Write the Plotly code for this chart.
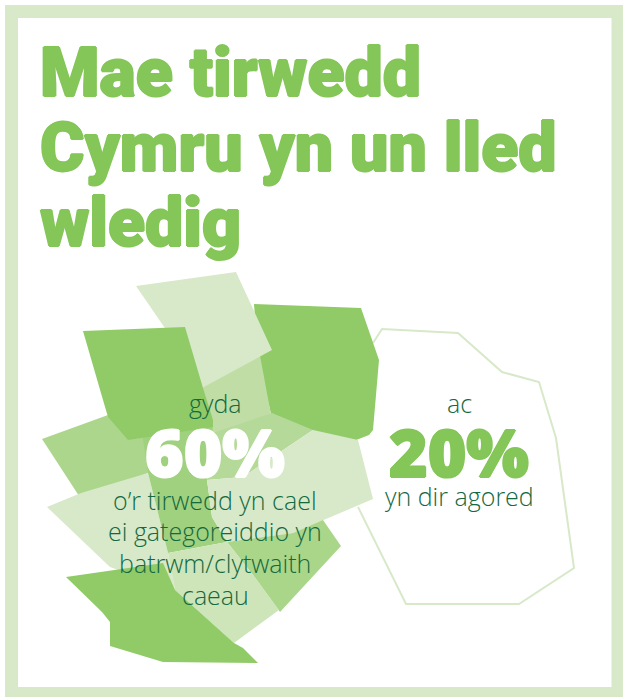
import plotly.graph_objects as go

W, H = 623, 697
TITLE_LINES = ["Mae tirwedd", "Cymru yn un lled", "wledig"]
TITLE_X = [38, 38, 38]
TITLE_Y = [72.5, 147.5, 222.5]

FRAME_COLOR = "#d7e9c9"
DARK = "#90cb68"
PALE = "#d7e9c9"
TEXT_GREEN = "#14693f"
TITLE_GREEN = "#84c658"

top_pale_x = [136, 236, 272, 202, 180]
top_pale_y = [286, 272, 350, 388, 350]
left_mid_x = [42, 108, 213, 213, 148, 81]
left_mid_y = [439, 415, 423, 440, 473, 499]
lower_pale_x = [47, 81, 148, 168, 175, 110]
lower_pale_y = [507, 493, 473, 553, 590, 567]
strip_x = [142, 213, 207, 212, 227, 168, 148]
strip_y = [433, 420, 480, 517, 542, 553, 473]
upper_mid_x = [198, 258, 272, 213]
upper_mid_y = [380, 345, 420, 440]
centre_x = [213, 272, 313, 243, 207]
centre_y = [433, 413, 430, 477, 480]
right_pale_x = [207, 243, 313, 358, 373, 293, 227, 212]
right_pale_y = [480, 477, 430, 440, 499, 533, 542, 517]
low_right_x = [227, 293, 323, 341, 280, 253]
low_right_y = [542, 533, 520, 546, 612, 575]
low_centre_x = [168, 227, 253, 279, 234, 175]
low_centre_y = [553, 542, 575, 610, 643, 590]
upper_left_x = [83, 185, 203, 213, 213, 128, 108, 103]
upper_left_y = [331, 327, 388, 420, 427, 440, 417, 400]
upper_right_x = [254, 361, 379, 373, 369, 351, 272, 258]
upper_right_y = [304, 308, 360, 430, 435, 442, 418, 360]
bottom_x = [66, 163, 175, 234, 243, 258, 163, 110, 110, 102]
bottom_y = [577, 563, 590, 643, 648, 663, 662, 646, 622, 612]
outline_x = [373, 382, 458, 502, 539, 556, 574, 519, 406, 358]
outline_y = [343, 329, 333, 372, 382, 438, 568, 604, 604, 507]

SHAPES = [
    (upper_right_x, upper_right_y, DARK),
    (upper_mid_x, upper_mid_y, "#bfdda5"),
    (top_pale_x, top_pale_y, "#d7e9c9"),
    (left_mid_x, left_mid_y, "#add68d"),
    (lower_pale_x, lower_pale_y, "#d7e9c9"),
    (strip_x, strip_y, "#a0d17e"),
    (centre_x, centre_y, "#b5d999"),
    (right_pale_x, right_pale_y, "#d7e9c9"),
    (low_right_x, low_right_y, "#aad68a"),
    (low_centre_x, low_centre_y, "#cde5b9"),
    (upper_left_x, upper_left_y, DARK),
    (bottom_x, bottom_y, DARK),
]

LEFT_TEXT = ["gyda", "o’r tirwedd yn cael", "ei gategoreiddio yn", "batrwm/clytwaith", "caeau"]
LEFT_X = [215, 215, 215, 215, 215]
LEFT_Y = [403, 500, 531, 563, 595]
RIGHT_TEXT = ["ac", "yn dir agored"]
RIGHT_X = [459, 459]
RIGHT_Y = [403, 496]
BIG_TEXT = ["60%", "20%"]
BIG_X = [215, 459]
BIG_Y = [451, 451]
BIG_COLOR = ["#ffffff", TITLE_GREEN]


def thick(c):
    return f"1px 0 0 {c}, -1px 0 0 {c}, 0 1px 0 {c}, 0 -1px 0 {c}"


fig = go.Figure()
fig.add_trace(go.Scatter(x=outline_x, y=outline_y, mode="lines",
                         line=dict(color=PALE, width=2), hoverinfo="skip"))
for xs, ys, col in SHAPES:
    fig.add_trace(go.Scatter(x=xs, y=ys, mode="lines", fill="toself", fillcolor=col,
                             line=dict(color=col, width=0), hoverinfo="skip"))

annotations = []
for t, x, y in zip(TITLE_LINES, TITLE_X, TITLE_Y):
    annotations.append(dict(x=x, y=y, text=t, xanchor="left", yanchor="middle", showarrow=False,
                            font=dict(family="Roboto", size=68, color=TITLE_GREEN, weight=900,
                                      shadow=thick(TITLE_GREEN))))
for t, x, y in zip(LEFT_TEXT + RIGHT_TEXT, LEFT_X + RIGHT_X, LEFT_Y + RIGHT_Y):
    annotations.append(dict(x=x, y=y, text=t, xanchor="center", yanchor="middle", showarrow=False,
                            font=dict(family="Open Sans", size=25, color=TEXT_GREEN, weight=300)))
for t, x, y, c in zip(BIG_TEXT, BIG_X, BIG_Y, BIG_COLOR):
    annotations.append(dict(x=x, y=y, text=t, xanchor="center", yanchor="middle", showarrow=False,
                            font=dict(family="Open Sans", size=66, color=c, weight=800,
                                      shadow=thick(c))))

fig.update_layout(
    width=W, height=H, autosize=False, showlegend=False,
    margin=dict(l=0, r=0, t=0, b=0),
    paper_bgcolor="white", plot_bgcolor="white",
    xaxis=dict(range=[0, W], visible=False, fixedrange=True),
    yaxis=dict(range=[H, 0], visible=False, fixedrange=True),
    annotations=annotations,
    shapes=[
        dict(type="rect", xref="x", yref="y", x0=5, y0=5, x1=W, y1=H,
             line=dict(width=0), fillcolor=FRAME_COLOR, layer="below"),
        dict(type="rect", xref="x", yref="y", x0=18, y0=18, x1=611.5, y1=687,
             line=dict(width=0), fillcolor="white", layer="below"),
    ],
)

fig.write_html("out.html", config={"displayModeBar": False},
               post_script="document.body.style.margin='0';document.body.style.overflow='hidden';")
